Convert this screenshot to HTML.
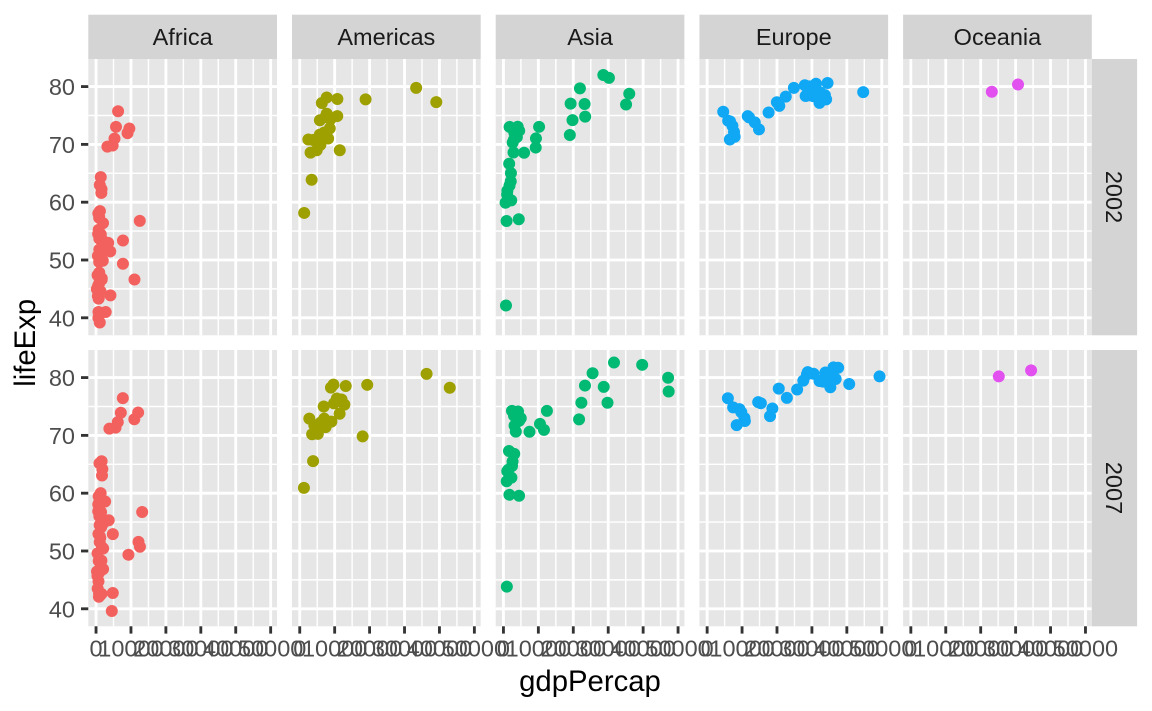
<!DOCTYPE html>
<html><head><meta charset="utf-8"><style>
html,body{margin:0;padding:0;background:#fff;}
svg{display:block;font-family:"Liberation Sans",Arial,Helvetica,sans-serif;}
</style></head><body>
<svg width="1152" height="711" viewBox="0 0 1152 711" xmlns="http://www.w3.org/2000/svg">
<defs>
<g id="pnl">
<rect x="0" y="0" width="188.7" height="276.3" fill="#E6E6E6"/>
<g stroke="#FFFFFF" stroke-width="1.42">
<line x1="25.2" y1="0" x2="25.2" y2="276.3"/><line x1="60.13" y1="0" x2="60.13" y2="276.3"/><line x1="95.05" y1="0" x2="95.05" y2="276.3"/><line x1="129.98" y1="0" x2="129.98" y2="276.3"/><line x1="164.91" y1="0" x2="164.91" y2="276.3"/>
<line x1="0" y1="56.49" x2="188.7" y2="56.49"/><line x1="0" y1="114.29" x2="188.7" y2="114.29"/><line x1="0" y1="172.09" x2="188.7" y2="172.09"/><line x1="0" y1="229.89" x2="188.7" y2="229.89"/>
</g>
<g stroke="#FFFFFF" stroke-width="2.85">
<line x1="7.735" y1="0" x2="7.735" y2="276.3"/><line x1="42.66" y1="0" x2="42.66" y2="276.3"/><line x1="77.59" y1="0" x2="77.59" y2="276.3"/><line x1="112.52" y1="0" x2="112.52" y2="276.3"/><line x1="147.44" y1="0" x2="147.44" y2="276.3"/><line x1="182.37" y1="0" x2="182.37" y2="276.3"/>
<line x1="0" y1="27.59" x2="188.7" y2="27.59"/><line x1="0" y1="85.39" x2="188.7" y2="85.39"/><line x1="0" y1="143.19" x2="188.7" y2="143.19"/><line x1="0" y1="200.99" x2="188.7" y2="200.99"/><line x1="0" y1="258.79" x2="188.7" y2="258.79"/>
</g>
</g>
</defs>

<!-- panels -->
<use href="#pnl" x="88.3" y="59"/><use href="#pnl" x="292" y="59"/><use href="#pnl" x="495.7" y="59"/><use href="#pnl" x="699.4" y="59"/><use href="#pnl" x="903.1" y="59"/>
<use href="#pnl" x="88.3" y="350"/><use href="#pnl" x="292" y="350"/><use href="#pnl" x="495.7" y="350"/><use href="#pnl" x="699.4" y="350"/><use href="#pnl" x="903.1" y="350"/>

<!-- strips -->
<g fill="#D4D4D4">
<rect x="88.3" y="14.7" width="188.7" height="44.3"/><rect x="292" y="14.7" width="188.7" height="44.3"/><rect x="495.7" y="14.7" width="188.7" height="44.3"/><rect x="699.4" y="14.7" width="188.7" height="44.3"/><rect x="903.1" y="14.7" width="188.7" height="44.3"/>
<rect x="1091.8" y="59" width="45.3" height="276.3"/><rect x="1091.8" y="350" width="45.3" height="276.3"/>
</g>
<g fill="#1A1A1A" font-size="23.5" text-anchor="middle">
<text x="182.65" y="45">Africa</text>
<text x="386.35" y="45">Americas</text>
<text x="590.05" y="45">Asia</text>
<text x="793.75" y="45">Europe</text>
<text x="997.45" y="45">Oceania</text>
<text transform="translate(1106,197) rotate(90)" x="0" y="0">2002</text>
<text transform="translate(1106,488) rotate(90)" x="0" y="0">2007</text>
</g>

<!-- points -->
<g fill="none" stroke-linecap="round" stroke-width="12">
<path vector-effect="non-scaling-stroke" stroke="#F3615E" transform="matrix(0.0034927 0 0 -5.78 96.035 548.99)" d="M5288 70.99h0M2773 41.00h0M1373 54.41h0M11004 46.63h0M1038 50.65h0M446 47.36h0M1934 49.86h0M739 43.31h0M1156 50.53h0M1076 62.97h0M241 44.97h0M3484 52.97h0M1649 46.83h0M1908 53.37h0M4755 69.81h0M7703 49.35h0M765 55.24h0M530 50.73h0M12522 56.76h0M661 58.04h0M1112 58.45h0M946 53.68h0M576 45.50h0M1288 50.99h0M1275 44.59h0M531 43.75h0M9535 72.74h0M895 57.29h0M665 45.01h0M951 51.82h0M1579 62.25h0M9022 71.95h0M3258 69.62h0M634 44.03h0M4072 51.48h0M601 54.50h0M1615 46.61h0M6316 75.74h0M786 43.41h0M1353 64.34h0M1520 61.60h0M699 41.01h0M882 45.94h0M7711 53.37h0M1993 56.37h0M4128 43.87h0M899 49.65h0M886 57.56h0M5723 73.04h0M928 47.81h0M1072 39.19h0M672 39.99h0"/>
<path vector-effect="non-scaling-stroke" stroke="#F3615E" transform="matrix(0.0034927 0 0 -5.78 96.035 839.99)" d="M6223 72.30h0M4797 42.73h0M1441 56.73h0M12570 50.73h0M1217 52.30h0M430 49.58h0M2042 50.43h0M706 44.74h0M1704 50.65h0M986 65.15h0M278 46.46h0M3633 55.32h0M1545 48.33h0M2082 54.79h0M5581 71.34h0M12154 51.58h0M641 58.04h0M691 52.95h0M13206 56.74h0M753 59.45h0M1328 60.02h0M943 56.01h0M579 46.39h0M1463 54.11h0M1569 42.59h0M415 45.68h0M12058 73.95h0M1045 59.44h0M759 48.30h0M1043 54.47h0M1803 64.16h0M10957 72.80h0M3820 71.16h0M824 42.08h0M4811 52.91h0M620 56.87h0M2014 46.86h0M7670 76.44h0M863 46.24h0M1598 65.53h0M1712 63.06h0M863 42.57h0M926 48.16h0M9270 49.34h0M2602 58.56h0M4513 39.61h0M1107 52.52h0M883 58.42h0M7093 73.92h0M1056 51.54h0M1271 42.38h0M470 43.49h0"/>
<path vector-effect="non-scaling-stroke" stroke="#9EA000" transform="matrix(0.0034927 0 0 -5.78 299.735 548.99)" d="M8798 74.34h0M3413 63.88h0M8131 71.01h0M33329 79.77h0M10779 77.86h0M5755 71.68h0M7723 78.12h0M6341 77.16h0M4564 70.85h0M5773 74.17h0M5352 70.73h0M4858 68.98h0M1270 58.14h0M3100 68.57h0M6995 72.05h0M10742 74.90h0M2475 70.84h0M7356 74.71h0M3784 70.76h0M5909 69.91h0M18856 77.78h0M11461 68.98h0M39097 77.31h0M7727 75.31h0M8605 72.77h0"/>
<path vector-effect="non-scaling-stroke" stroke="#9EA000" transform="matrix(0.0034927 0 0 -5.78 299.735 839.99)" d="M12779 75.32h0M3822 65.55h0M9066 72.39h0M36319 80.65h0M13172 78.55h0M7007 72.89h0M9645 78.78h0M8948 78.27h0M6025 72.24h0M6873 74.99h0M5728 71.88h0M5186 70.26h0M1202 60.92h0M3548 70.20h0M7321 72.57h0M11978 76.20h0M2749 72.90h0M9809 75.54h0M4173 71.75h0M7409 71.42h0M19329 78.75h0M18009 69.82h0M42952 78.24h0M10611 76.38h0M11416 73.75h0"/>
<path vector-effect="non-scaling-stroke" stroke="#00BA74" transform="matrix(0.0034927 0 0 -5.78 503.435 548.99)" d="M727 42.13h0M23404 74.80h0M1136 62.01h0M896 56.75h0M3119 72.03h0M30209 81.50h0M1747 62.88h0M2874 68.59h0M9241 69.45h0M4391 57.05h0M21906 79.70h0M28605 82.00h0M3845 71.26h0M1647 66.66h0M19234 77.05h0M35110 76.90h0M9314 71.03h0M10207 73.04h0M2141 65.03h0M611 59.91h0M1057 61.34h0M19775 74.19h0M2093 63.61h0M2651 70.30h0M19015 71.63h0M36023 78.77h0M3015 70.82h0M4091 73.05h0M23235 76.99h0M5913 68.56h0M1764 73.02h0M4515 72.37h0M2235 60.31h0"/>
<path vector-effect="non-scaling-stroke" stroke="#00BA74" transform="matrix(0.0034927 0 0 -5.78 503.435 839.99)" d="M975 43.83h0M29796 75.64h0M1391 64.06h0M1714 59.72h0M4959 72.96h0M39725 82.21h0M2452 64.70h0M3541 70.65h0M11606 70.96h0M4471 59.55h0M25523 80.75h0M31656 82.60h0M4519 72.54h0M1593 67.30h0M23348 78.62h0M47307 77.59h0M10461 71.99h0M12452 74.24h0M3096 66.80h0M944 62.07h0M1091 63.79h0M22316 75.64h0M2606 65.48h0M3190 71.69h0M21655 72.78h0M47143 79.97h0M3970 72.40h0M4185 74.14h0M28718 78.40h0M7458 70.62h0M2442 74.25h0M3025 73.42h0M2281 62.70h0"/>
<path vector-effect="non-scaling-stroke" stroke="#10A8F4" transform="matrix(0.0034927 0 0 -5.78 707.135 548.99)" d="M4604 75.65h0M32418 78.98h0M30486 78.32h0M6019 74.09h0M7697 72.14h0M11628 74.88h0M17596 75.51h0M32167 77.18h0M28205 78.37h0M28926 79.59h0M30036 78.67h0M22514 78.26h0M14844 72.59h0M31163 80.50h0M34077 77.78h0M27968 80.24h0M6557 73.98h0M33725 78.53h0M44684 79.05h0M12002 74.67h0M19971 77.29h0M7885 71.32h0M7236 73.21h0M13639 73.80h0M20660 76.66h0M24835 79.78h0M29342 80.04h0M34481 80.62h0M6508 70.85h0M29478 78.47h0"/>
<path vector-effect="non-scaling-stroke" stroke="#10A8F4" transform="matrix(0.0034927 0 0 -5.78 707.135 839.99)" d="M5937 76.42h0M36126 79.83h0M33693 79.44h0M7446 74.85h0M10681 73.01h0M14619 75.75h0M22833 76.49h0M35278 78.33h0M33207 79.31h0M30470 80.66h0M32170 79.41h0M27538 79.48h0M18009 73.34h0M36181 81.76h0M40676 78.89h0M28570 80.55h0M9254 74.54h0M36798 79.76h0M49357 80.20h0M15390 75.56h0M20510 78.10h0M10808 72.48h0M9787 74.00h0M18678 74.66h0M25768 77.93h0M28821 80.94h0M33860 80.88h0M37506 81.70h0M8458 71.78h0M33203 79.43h0"/>
<path vector-effect="non-scaling-stroke" stroke="#E250F0" transform="matrix(0.0034927 0 0 -5.78 910.835 548.99)" d="M30688 80.37h0M23190 79.11h0"/>
<path vector-effect="non-scaling-stroke" stroke="#E250F0" transform="matrix(0.0034927 0 0 -5.78 910.835 839.99)" d="M34435 81.24h0M25185 80.20h0"/>
</g>

<!-- y ticks -->
<g stroke="#333333" stroke-width="2.85">
<line x1="81" y1="86.59" x2="88.3" y2="86.59"/><line x1="81" y1="144.39" x2="88.3" y2="144.39"/><line x1="81" y1="202.19" x2="88.3" y2="202.19"/><line x1="81" y1="259.99" x2="88.3" y2="259.99"/><line x1="81" y1="317.79" x2="88.3" y2="317.79"/>
<line x1="81" y1="377.59" x2="88.3" y2="377.59"/><line x1="81" y1="435.39" x2="88.3" y2="435.39"/><line x1="81" y1="493.19" x2="88.3" y2="493.19"/><line x1="81" y1="550.99" x2="88.3" y2="550.99"/><line x1="81" y1="608.79" x2="88.3" y2="608.79"/>
</g>
<g fill="#4D4D4D" font-size="23.5" text-anchor="end">
<text x="75" y="95.1">80</text><text x="75" y="152.9">70</text><text x="75" y="210.7">60</text><text x="75" y="268.5">50</text><text x="75" y="326.3">40</text>
<text x="75" y="386.1">80</text><text x="75" y="443.9">70</text><text x="75" y="501.7">60</text><text x="75" y="559.5">50</text><text x="75" y="617.3">40</text>
</g>

<!-- x ticks -->
<g stroke="#333333" stroke-width="2.85">
<line x1="96.04" y1="626.3" x2="96.04" y2="633.6"/><line x1="130.96" y1="626.3" x2="130.96" y2="633.6"/><line x1="165.89" y1="626.3" x2="165.89" y2="633.6"/><line x1="200.82" y1="626.3" x2="200.82" y2="633.6"/><line x1="235.74" y1="626.3" x2="235.74" y2="633.6"/><line x1="270.67" y1="626.3" x2="270.67" y2="633.6"/>
<line x1="299.74" y1="626.3" x2="299.74" y2="633.6"/><line x1="334.66" y1="626.3" x2="334.66" y2="633.6"/><line x1="369.59" y1="626.3" x2="369.59" y2="633.6"/><line x1="404.52" y1="626.3" x2="404.52" y2="633.6"/><line x1="439.44" y1="626.3" x2="439.44" y2="633.6"/><line x1="474.37" y1="626.3" x2="474.37" y2="633.6"/>
<line x1="503.44" y1="626.3" x2="503.44" y2="633.6"/><line x1="538.36" y1="626.3" x2="538.36" y2="633.6"/><line x1="573.29" y1="626.3" x2="573.29" y2="633.6"/><line x1="608.22" y1="626.3" x2="608.22" y2="633.6"/><line x1="643.14" y1="626.3" x2="643.14" y2="633.6"/><line x1="678.07" y1="626.3" x2="678.07" y2="633.6"/>
<line x1="707.14" y1="626.3" x2="707.14" y2="633.6"/><line x1="742.06" y1="626.3" x2="742.06" y2="633.6"/><line x1="776.99" y1="626.3" x2="776.99" y2="633.6"/><line x1="811.92" y1="626.3" x2="811.92" y2="633.6"/><line x1="846.84" y1="626.3" x2="846.84" y2="633.6"/><line x1="881.77" y1="626.3" x2="881.77" y2="633.6"/>
<line x1="910.84" y1="626.3" x2="910.84" y2="633.6"/><line x1="945.76" y1="626.3" x2="945.76" y2="633.6"/><line x1="980.69" y1="626.3" x2="980.69" y2="633.6"/><line x1="1015.62" y1="626.3" x2="1015.62" y2="633.6"/><line x1="1050.54" y1="626.3" x2="1050.54" y2="633.6"/><line x1="1085.47" y1="626.3" x2="1085.47" y2="633.6"/>
</g>
<g fill="#4D4D4D" font-size="23.5" text-anchor="middle">
<text x="96.04" y="656.5">0</text><text x="130.96" y="656.5">10000</text><text x="165.89" y="656.5">20000</text><text x="200.82" y="656.5">30000</text><text x="235.74" y="656.5">40000</text><text x="270.67" y="656.5">50000</text>
<text x="299.74" y="656.5">0</text><text x="334.66" y="656.5">10000</text><text x="369.59" y="656.5">20000</text><text x="404.52" y="656.5">30000</text><text x="439.44" y="656.5">40000</text><text x="474.37" y="656.5">50000</text>
<text x="503.44" y="656.5">0</text><text x="538.36" y="656.5">10000</text><text x="573.29" y="656.5">20000</text><text x="608.22" y="656.5">30000</text><text x="643.14" y="656.5">40000</text><text x="678.07" y="656.5">50000</text>
<text x="707.14" y="656.5">0</text><text x="742.06" y="656.5">10000</text><text x="776.99" y="656.5">20000</text><text x="811.92" y="656.5">30000</text><text x="846.84" y="656.5">40000</text><text x="881.77" y="656.5">50000</text>
<text x="910.84" y="656.5">0</text><text x="945.76" y="656.5">10000</text><text x="980.69" y="656.5">20000</text><text x="1015.62" y="656.5">30000</text><text x="1050.54" y="656.5">40000</text><text x="1085.47" y="656.5">50000</text>
</g>

<!-- axis titles -->
<g fill="#000000" font-size="29.3" text-anchor="middle">
<text x="590" y="691">gdpPercap</text>
<text transform="translate(35,342.8) rotate(-90)" x="0" y="0">lifeExp</text>
</g>
</svg>
</body></html>
